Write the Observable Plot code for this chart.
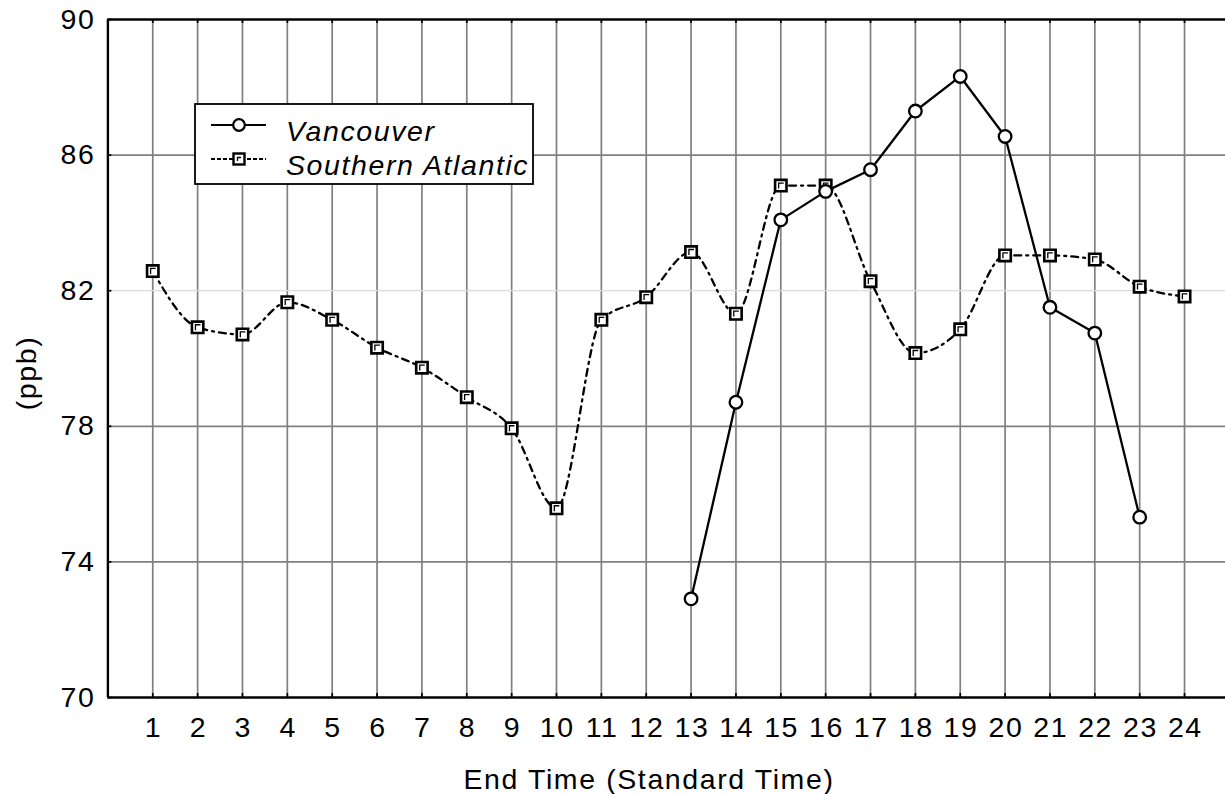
<!DOCTYPE html>
<html><head><meta charset="utf-8">
<script src="https://cdn.jsdelivr.net/npm/d3@7"></script>
<script src="https://cdn.jsdelivr.net/npm/@observablehq/plot@0.6"></script>
<style>body{margin:0;background:#fff} #chart{width:1225px;height:794px}</style>
</head><body><div id="chart"></div>
<script>
// ---- data ----
const hours = [1,2,3,4,5,6,7,8,9,10,11,12,13,14,15,16,17,18,19,20,21,22,23,24];
const xTicks = hours;
const yTicks = [70,74,78,82,86,90];
const vancouverHours = [13,14,15,16,17,18,19,20,21,22,23];
const vancouver = [72.91,78.71,84.09,84.93,85.57,87.30,88.32,86.55,81.51,80.75,75.32];
const southernAtlantic = [82.58,80.92,80.71,81.66,81.14,80.32,79.73,78.86,77.94,75.58,81.14,81.81,83.14,81.32,85.10,85.10,82.28,80.16,80.86,83.04,83.04,82.92,82.12,81.83];
const seriesNames = ["Vancouver","Southern Atlantic"];
const xLabel = "End Time (Standard Time)";
const yLabel = "(ppb)";

const vanData = vancouverHours.map((h,i)=>({h, v: vancouver[i]}));
const saData = hours.map((h,i)=>({h, v: southernAtlantic[i]}));

const W=1225, H=794, mL=107.4, mT=19, mB=97, mR=0;
const innerW = W-mL-mR, innerH = H-mT-mB;
const xDomain = [0, 24.913];
const yDomain = [70, 90];
const font = "'Liberation Sans', Arial, Helvetica, sans-serif";
const fs = 28.5, ls = "1.6px";

const squareOutline = {draw(ctx, size){ const h = Math.sqrt(size/Math.PI);
  ctx.moveTo(-h,-h); ctx.lineTo(h,-h); ctx.lineTo(h,h); ctx.lineTo(-h,h); ctx.closePath(); }};
const squareInner = {draw(ctx, size){ const h = Math.sqrt(size/Math.PI);
  ctx.moveTo(-h*0.38, h*0.5); ctx.lineTo(-h*0.38,-h*0.45); ctx.lineTo(h*0.5,-h*0.45); }};

const plot = Plot.plot({
  width: W, height: H, marginLeft: mL, marginTop: mT, marginBottom: mB, marginRight: mR,
  x: {domain: xDomain},
  y: {domain: yDomain},
  style: {fontFamily: font, fontSize: fs + "px", letterSpacing: ls, color: "#000", background: "#fff", overflow: "visible"},
  marks: [
    Plot.ruleX(xTicks, {stroke: "#808080", strokeWidth: 1.7}),
    Plot.ruleY(yTicks.filter(v => v > 70 && v < 90 && v !== 82), {stroke: "#808080", strokeWidth: 1.8}),
    Plot.ruleY(yTicks.filter(v => v === 82), {stroke: "#dcdcdc", strokeWidth: 1.2}),
    Plot.tickX(xTicks, {x: d => d, stroke: "#000", strokeWidth: 1.7, insetTop: innerH - 4}),
    Plot.tickX(xTicks, {x: d => d, stroke: "#000", strokeWidth: 1.7, insetBottom: innerH - 4}),
    Plot.tickY(yTicks, {y: d => d, stroke: "#000", strokeWidth: 1.7, insetRight: innerW - 4}),
    Plot.ruleX([xDomain[0]], {stroke: "#000", strokeWidth: 2.4}),
    Plot.ruleY(yDomain, {stroke: "#000", strokeWidth: 2.4}),
    Plot.axisX(xTicks, {tickSize: 0, tickPadding: 19, label: null, fontSize: fs, dx: 0.8}),
    Plot.axisY(yTicks, {tickSize: 0, tickPadding: 12.5, label: null, fontSize: fs}),
    Plot.line(saData, {x: "h", y: "v", curve: "monotone-x", stroke: "#000", strokeWidth: 2.3, strokeDasharray: "7,5,2,5"}),
    Plot.line(vanData, {x: "h", y: "v", stroke: "#000", strokeWidth: 2.3}),
    Plot.dot(saData, {x: "h", y: "v", symbol: squareOutline, r: 5.7, fill: "#fff", stroke: "#000", strokeWidth: 2.6}),
    Plot.dot(saData, {x: "h", y: "v", symbol: squareInner, r: 5.7, fill: "none", stroke: "#000", strokeWidth: 1.3}),
    Plot.dot(vanData, {x: "h", y: "v", r: 6.3, fill: "#fff", stroke: "#000", strokeWidth: 2.3})
  ]
});
document.getElementById("chart").appendChild(plot);

const svg = d3.select(plot);
function txt(sel){ return sel.attr("font-family", font).attr("font-size", fs).attr("fill", "#000").style("letter-spacing", ls); }
// axis titles
txt(svg.append("text")).attr("x", 649).attr("y", 789).attr("text-anchor", "middle").text(xLabel);
txt(svg.append("text")).attr("transform", "translate(36,373) rotate(-90)").attr("text-anchor", "middle").text(yLabel);

// legend
const lg = svg.append("g");
lg.append("rect").attr("x", 195).attr("y", 104).attr("width", 338).attr("height", 80)
  .attr("fill", "#fff").attr("stroke", "#000").attr("stroke-width", 1.8);
lg.append("line").attr("x1", 211).attr("x2", 266).attr("y1", 125).attr("y2", 125).attr("stroke", "#000").attr("stroke-width", 2.2);
lg.append("circle").attr("cx", 239).attr("cy", 125).attr("r", 5.8).attr("fill", "#fff").attr("stroke", "#000").attr("stroke-width", 2.2);
lg.append("line").attr("x1", 211).attr("x2", 266).attr("y1", 159).attr("y2", 159).attr("stroke", "#000").attr("stroke-width", 1.8).attr("stroke-dasharray", "4,2");
lg.append("rect").attr("x", 233.5).attr("y", 153.5).attr("width", 11).attr("height", 11).attr("fill", "#fff").attr("stroke", "#000").attr("stroke-width", 2.4);
lg.append("path").attr("d", "M237.5,161V157.5H241").attr("fill", "none").attr("stroke", "#000").attr("stroke-width", 1.3);
txt(lg.append("text")).attr("x", 286).attr("y", 140.5).attr("text-anchor", "start").attr("font-style", "italic").text(seriesNames[0]);
txt(lg.append("text")).attr("x", 286).attr("y", 174.5).attr("text-anchor", "start").attr("font-style", "italic").text(seriesNames[1]);
</script></body></html>
